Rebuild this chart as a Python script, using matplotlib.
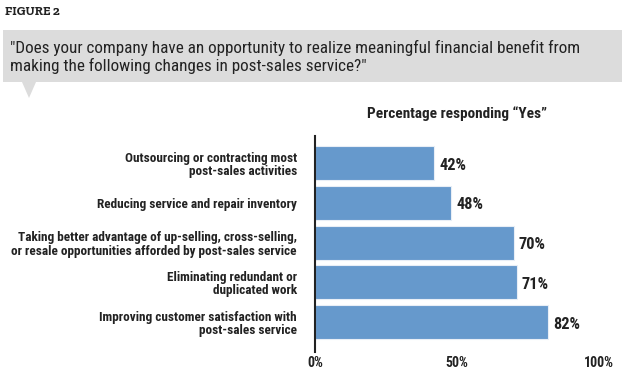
import matplotlib
matplotlib.use("Agg")
import matplotlib.pyplot as plt
from matplotlib.patches import Rectangle, Polygon
from matplotlib import font_manager

categories = [
    "Outsourcing or contracting most\npost-sales activities",
    "Reducing service and repair inventory",
    "Taking better advantage of up-selling, cross-selling,\nor resale opportunities afforded by post-sales service",
    "Eliminating redundant or\nduplicated work",
    "Improving customer satisfaction with\npost-sales service",
]
values = [42, 48, 70, 71, 82]
xticks = [0, 50, 100]
xticklabels = ["0%", "50%", "100%"]

names = {f.name for f in font_manager.fontManager.ttflist}
narrow = next((n for n in ["Roboto Condensed", "Archivo Narrow", "Fira Sans Condensed",
                           "Barlow Condensed", "IBM Plex Sans Condensed", "DejaVu Sans"]
               if n in names), "DejaVu Sans")
plt.rcParams['font.family'] = [narrow, 'DejaVu Sans']
serif = next((n for n in ["Roboto Slab", "Zilla Slab", "DejaVu Serif"] if n in names), "DejaVu Serif")

W, H = 625, 376
fig = plt.figure(figsize=(W/100, H/100), dpi=100)

# header
fig.text(5/W, 1-12/H, "FIGURE 2", family=[serif, 'DejaVu Serif'],
         fontweight='bold', fontsize=9.2, va='center', ha='left', color='#222222')
fig.patches.append(Rectangle((3/W, 1-82/H), 619/W, 52/H, transform=fig.transFigure,
                             facecolor='#dcdcdc', edgecolor='none'))
fig.patches.append(Polygon([(22/W, 1-82/H), (36/W, 1-82/H), (29/W, 1-98/H)],
                           closed=True, transform=fig.transFigure,
                           facecolor='#dcdcdc', edgecolor='none'))
fig.text(10/W, 1-57/H,
         "\"Does your company have an opportunity to realize meaningful financial benefit from\nmaking the following changes in post-sales service?\"",
         fontsize=12.3, va='center', ha='left', color='#222222', linespacing=1.2)

ax = fig.add_axes([315/W, 1-352/H, 284/W, 216/H])
ypos = list(range(len(values)))
ax.barh(ypos, values, height=0.855, color='#6699cc', edgecolor='#e8eef6', linewidth=0.8)
ax.set_xlim(0, 100)
ax.set_ylim(4.75, -0.68)
for y, v in zip(ypos, values):
    ax.text(v + 1.8, y + 0.05, f"{v}%", va='center', ha='left', fontsize=11.8,
            fontweight='bold', color='#222222')
ax.set_yticks(ypos)
ax.set_yticklabels(categories, fontsize=9.5, fontweight='bold', color='#222222', linespacing=1.05)
ax.tick_params(axis='y', length=0, pad=13)
ax.set_xticks(xticks)
ax.set_xticklabels(xticklabels, fontsize=10, fontweight='bold', color='#222222')
ax.tick_params(axis='x', length=0, pad=3)
for s in ['top', 'right', 'bottom']:
    ax.spines[s].set_visible(False)
ax.spines['left'].set_linewidth(1.5)
ax.spines['left'].set_color('#222222')
ax.set_facecolor('none')
ax.set_title("Percentage responding \u201cYes\u201d", fontsize=11, fontweight='bold',
             color='#222222', pad=13)

fig.savefig("out.png", dpi=100)
